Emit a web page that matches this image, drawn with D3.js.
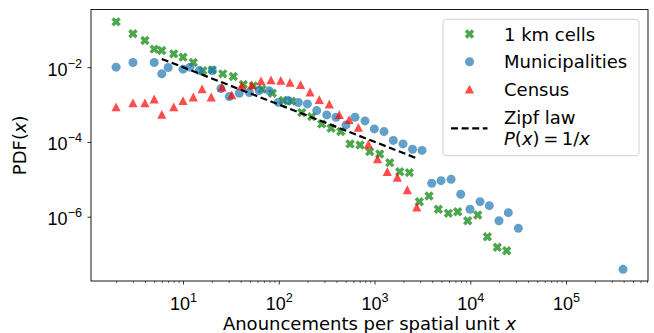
<!DOCTYPE html>
<html>
<head>
<meta charset="utf-8">
<script src="https://cdn.jsdelivr.net/npm/d3@7"></script>
<style>
  body { margin: 0; background: #fff; }
  svg { display: block; font-family: "DejaVu Sans", sans-serif; }
</style>
</head>
<body>
<svg id="chart" width="654" height="333"></svg>
<script>
// --- data ---
const kmX = [2, 3, 4, 5, 6, 8, 10, 12.8, 16.1, 20.2, 26, 33.5, 42.6, 54.2, 66.8, 85.7, 111, 136, 174, 221,
  281, 352, 444, 555, 706, 891, 1133, 1443, 1834, 2309, 2938, 3707, 4637, 5900, 7390, 9400, 11960, 15070, 19150, 24000];
const kmY = [0.163, 0.078, 0.0515, 0.0303, 0.0278, 0.0227, 0.0185, 0.0133, 0.0080, 0.00847, 0.00662, 0.0056, 0.00342,
  0.00316, 0.00258, 0.00201, 0.00128, 0.00123, 6.09e-4, 4.75e-4, 3.03e-4, 2.33e-4, 1.89e-4, 8.84e-5, 8.3e-5, 5.5e-5,
  4.77e-5, 2.79e-5, 1.6e-5, 1.51e-5, 2.52e-6, 3.58e-6, 1.58e-6, 1.23e-6, 1.36e-6, 7.8e-7, 1.11e-6, 2.92e-7, 1.52e-7, 1.23e-7];

const muniX = [2, 3, 5, 6, 7, 10, 11.8, 14.8, 20.2, 24.9, 30.4, 38.7, 49.3, 62.6, 79.6, 98.9, 125, 160, 199, 249,
  317, 396, 504, 625, 795, 995, 1257, 1571, 1985, 2495, 3133, 3957, 4950, 6300, 7950, 9940, 12640, 15800, 19950,
  24950, 31760, 394000];
const muniY = [0.01, 0.0133, 0.0133, 0.00662, 0.00976, 0.00884, 0.01, 0.0081, 0.0081, 0.00267, 0.00163, 0.00201,
  0.00209, 0.00236, 0.00232, 0.00114, 0.00128, 0.00113, 0.00104, 6.89e-4, 5.28e-4, 4.58e-4, 2.85e-4, 4.58e-4,
  3.65e-4, 2.23e-4, 1.89e-4, 1.10e-4, 8.84e-5, 6.38e-5, 5.92e-5, 7.84e-6, 9.2e-6, 1.0e-5, 3.98e-6, 1.58e-6,
  2.52e-6, 1.97e-6, 7.8e-7, 1.28e-6, 4.89e-7, 3.9e-8];

const censusX = [2, 3, 4, 5, 6, 8, 10, 12.8, 15.8, 19.7, 25.5, 32.3, 41, 52.2, 65.3, 83, 105, 131, 169, 212,
  265, 337, 429, 542, 678, 862, 1075, 1360, 1731, 2202, 2760];
const censusY = [8.5e-4, 1.09e-3, 1.09e-3, 1.39e-3, 5.38e-4, 8.5e-4, 1.25e-3, 1.57e-3, 2.58e-3, 1.57e-3, 2.91e-3,
  1.78e-3, 3.16e-3, 3.3e-3, 4.22e-3, 4.52e-3, 4.38e-3, 3.87e-3, 3.36e-3, 2.14e-3, 1.33e-3, 1.02e-3, 5.28e-4,
  3.88e-4, 2.42e-4, 8.57e-5, 3.46e-5, 1.6e-5, 1.12e-5, 5.19e-6, 1.79e-6];

// Zipf reference line end points
const zipfX = [6, 2800];
const zipfY = [0.0166, 3.6e-5];

const xTicks = [1e1, 1e2, 1e3, 1e4, 1e5];
const xTickExp = ["1", "2", "3", "4", "5"];
const yTicks = [1e-2, 1e-4, 1e-6];
const yTickExp = ["\u22122", "\u22124", "\u22126"];

const legendLabels = ["1 km cells", "Municipalities", "Census"];

// --- layout ---
const plot = { left: 91, right: 648, top: 9.5, bottom: 281 };
const svg = d3.select('#chart');

const x = d3.scaleLog()
  .domain([Math.pow(10, 0.039), Math.pow(10, 5.856)])
  .range([plot.left, plot.right]);
const y = d3.scaleLog()
  .domain([Math.pow(10, -0.458), Math.pow(10, -7.72)])
  .range([plot.top, plot.bottom]);

const colors = { km: '#008000', muni: '#1f77b4', census: '#ff0000' };
const alpha = 0.7;

// marker shapes (matplotlib-like)
const xShape = (function () {
  const L = 4.9, w = 1.75;
  const pts = [[-w, -L], [w, -L], [w, -w], [L, -w], [L, w], [w, w], [w, L], [-w, L], [-w, w], [-L, w], [-L, -w], [-w, -w]];
  const c = Math.SQRT1_2;
  return 'M' + pts.map(p => [(p[0] - p[1]) * c, (p[0] + p[1]) * c].map(v => v.toFixed(2)).join(',')).join('L') + 'Z';
})();
const triShape = 'M0,-4.6L4.6,4.2L-4.6,4.2Z';
const circR = 4.5;

// --- axes ---
const minorX = [];
for (let e = 0; e <= 5; e++) for (let m = 2; m <= 9; m++) {
  const v = m * Math.pow(10, e);
  if (v > x.domain()[0] && v < x.domain()[1]) minorX.push(v);
}

const xMinorAxis = svg.append('g')
  .attr('transform', `translate(0,${plot.bottom})`)
  .call(d3.axisBottom(x).tickValues(minorX).tickSize(2).tickFormat(''));
const xAxis = svg.append('g')
  .attr('transform', `translate(0,${plot.bottom})`)
  .call(d3.axisBottom(x).tickValues(xTicks).tickSize(3.5).tickFormat(''));
const yAxis = svg.append('g')
  .attr('transform', `translate(${plot.left},0)`)
  .call(d3.axisLeft(y).tickValues(yTicks).tickSize(3.5).tickFormat(''));

[xMinorAxis, xAxis, yAxis].forEach(g => {
  g.select('.domain').remove();
  g.selectAll('line').attr('stroke', '#000').attr('stroke-width', 0.8);
});
xMinorAxis.selectAll('line').attr('stroke-width', 0.6);

xAxis.selectAll('.tick').each(function (d, i) {
  const t = d3.select(this).append('text')
    .attr('y', 29).attr('fill', '#000').attr('text-anchor', 'middle')
    .style('font-size', '18px');
  t.append('tspan').text('10');
  t.append('tspan').attr('dy', -8).style('font-size', '12.6px').text(xTickExp[i]);
});
yAxis.selectAll('.tick').each(function (d, i) {
  const t = d3.select(this).append('text')
    .attr('x', -9).attr('y', 8).attr('fill', '#000').attr('text-anchor', 'end')
    .style('font-size', '18px');
  t.append('tspan').text('10');
  t.append('tspan').attr('dy', -8).style('font-size', '12.6px').text(yTickExp[i]);
});

// axis labels
const xl = svg.append('text')
  .attr('x', (plot.left + plot.right) / 2).attr('y', 329.5)
  .attr('text-anchor', 'middle').style('font-size', '18px');
xl.append('tspan').text('Anouncements per spatial unit ');
xl.append('tspan').style('font-style', 'italic').text('x');

const yl = svg.append('text')
  .attr('transform', `translate(26,${(plot.top + plot.bottom) / 2}) rotate(-90)`)
  .attr('text-anchor', 'middle').style('font-size', '18px');
yl.append('tspan').text('PDF(');
yl.append('tspan').style('font-style', 'italic').text('x');
yl.append('tspan').text(')');

// --- marks ---
const marks = svg.append('g');

marks.append('g').selectAll('path')
  .data(d3.zip(kmX, kmY)).enter().append('path')
  .attr('d', xShape)
  .attr('transform', d => `translate(${x(d[0])},${y(d[1])})`)
  .attr('fill', colors.km).attr('fill-opacity', alpha);

marks.append('g').selectAll('circle')
  .data(d3.zip(muniX, muniY)).enter().append('circle')
  .attr('cx', d => x(d[0])).attr('cy', d => y(d[1])).attr('r', circR)
  .attr('fill', colors.muni).attr('fill-opacity', alpha);

marks.append('g').selectAll('path')
  .data(d3.zip(censusX, censusY)).enter().append('path')
  .attr('d', triShape)
  .attr('transform', d => `translate(${x(d[0])},${y(d[1])})`)
  .attr('fill', colors.census).attr('fill-opacity', alpha);

marks.append('path')
  .datum(d3.zip(zipfX, zipfY))
  .attr('d', d3.line().x(d => x(d[0])).y(d => y(d[1])))
  .attr('fill', 'none').attr('stroke', '#000').attr('stroke-width', 2.2)
  .attr('stroke-dasharray', '7,3.6');

// frame
svg.append('rect')
  .attr('x', plot.left).attr('y', plot.top)
  .attr('width', plot.right - plot.left).attr('height', plot.bottom - plot.top)
  .attr('fill', 'none').attr('stroke', '#000').attr('stroke-width', 0.9);

// --- legend ---
const lg = svg.append('g');
lg.append('rect')
  .attr('x', 443).attr('y', 19.3).attr('width', 196).attr('height', 136.4).attr('rx', 3)
  .attr('fill', '#fff').attr('fill-opacity', 0.8)
  .attr('stroke', '#cccccc').attr('stroke-width', 0.9);

const mx = 469.5, tx = 504;
const rowY = [34, 61.7, 89.3];
lg.append('path').attr('d', xShape).attr('transform', `translate(${mx},${rowY[0]})`)
  .attr('fill', colors.km).attr('fill-opacity', alpha);
lg.append('circle').attr('cx', mx).attr('cy', rowY[1]).attr('r', circR)
  .attr('fill', colors.muni).attr('fill-opacity', alpha);
lg.append('path').attr('d', triShape).attr('transform', `translate(${mx},${rowY[2]})`)
  .attr('fill', colors.census).attr('fill-opacity', alpha);

legendLabels.forEach((s, i) => {
  lg.append('text').attr('x', tx).attr('y', rowY[i] + 6.7).style('font-size', '18px').text(s);
});

lg.append('line')
  .attr('x1', 451).attr('x2', 487.5).attr('y1', 128.3).attr('y2', 128.3)
  .attr('stroke', '#000').attr('stroke-width', 2.2).attr('stroke-dasharray', '7,3.6');
lg.append('text').attr('x', tx).attr('y', 124).style('font-size', '18px').text('Zipf law');
const pz = lg.append('text').attr('x', tx).attr('y', 144.5).style('font-size', '18px');
pz.append('tspan').style('font-style', 'italic').text('P');
pz.append('tspan').text('(');
pz.append('tspan').style('font-style', 'italic').text('x');
pz.append('tspan').text(')\u2009=\u20091/');
pz.append('tspan').style('font-style', 'italic').text('x');
</script>
</body>
</html>
